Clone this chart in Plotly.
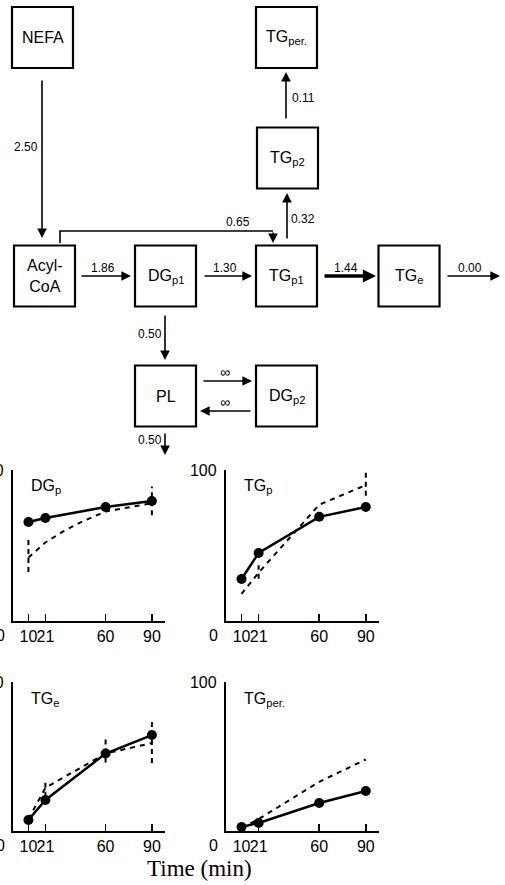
import plotly.graph_objects as go

# ---------------- data ----------------
time_points = [10, 21, 60, 90]
x_tick_labels = ["10", "21", "60", "90"]

dgp_obs = [65.6, 68.2, 75.5, 79.5]
tgp_obs = [27.8, 45.0, 69.0, 75.5]
tge_obs = [7.4, 20.8, 52.0, 64.4]
tgper_obs = [2.7, 5.4, 18.8, 26.8]

dgp_model_t = [10, 21, 32, 43, 60, 75, 90]
dgp_model = [42, 52, 59, 65, 72.5, 75.5, 78]
tgp_model_t = [10, 21, 60, 90]
tgp_model = [18, 32, 77, 90]
tge_model_t = [10, 21, 60, 90]
tge_model = [8, 29, 52, 59]
tgper_model_t = [10, 21, 60, 90]
tgper_model = [2, 8, 33, 48]

dgp_range_t, dgp_lo, dgp_hi = [10, 90], [32.5, 70], [53.6, 89]
tgp_range_t, tgp_lo, tgp_hi = [21, 90], [28, 83], [37, 99]
tge_range_t, tge_lo, tge_hi = [21, 60, 90], [23, 46, 45.6], [33, 62.4, 74.5]
tgper_range_t, tgper_lo, tgper_hi = [], [], []

panel_names = ["DG<sub>p</sub>", "TG<sub>p</sub>", "TG<sub>e</sub>", "TG<sub>per.</sub>"]

node_labels = ["NEFA", "TG<sub>per.</sub>", "TG<sub>p2</sub>", "Acyl-<br>CoA", "DG<sub>p1</sub>",
               "TG<sub>p1</sub>", "TG<sub>e</sub>", "PL", "DG<sub>p2</sub>"]
flux_labels = ["2.50", "0.11", "0.32", "0.65", "1.86", "1.30", "1.44", "0.00", "0.50", "∞", "∞", "0.50"]

# ---------------- layout helpers ----------------
W, H = 505, 885
def px(x): return x / W
def py(y): return 1 - y / H

fig = go.Figure()
FONT = "Liberation Sans, Arial, sans-serif"

# ---------------- compartment diagram ----------------
node_centers = [(42.5, 37.5), (286.5, 37.5), (287.5, 158), (44.5, 276), (165.5, 276),
                (286.5, 276), (409, 276), (165.5, 396), (286.5, 396)]
half = 30.5
shapes = []
annotations = []
for (cx, cy), lab in zip(node_centers, node_labels):
    shapes.append(dict(type="rect", xref="paper", yref="paper",
                       x0=px(cx - half), x1=px(cx + half), y0=py(cy + half), y1=py(cy - half),
                       line=dict(color="black", width=2.2)))
    annotations.append(dict(xref="paper", yref="paper", x=px(cx), y=py(cy), text=lab,
                            showarrow=False, font=dict(family=FONT, size=16, color="black"),
                            xanchor="center", yanchor="middle"))

# arrows: (tail, head, width, label position)
arrows = [
    ((42, 79), (42, 238), 1.6, (26, 147)),
    ((286, 120), (286, 72), 1.6, (303, 98)),
    ((287, 240), (287, 193), 1.6, (303, 219)),
    ((273, 231), (273, 243), 1.6, (238, 222)),
    ((80, 276), (131, 276), 1.6, (103, 268)),
    ((203, 276), (252, 276), 1.6, (225, 268)),
    ((323, 276), (376, 276), 3.5, (346, 268)),
    ((446, 276), (500, 276), 1.6, (470, 268)),
    ((165, 314), (165, 360), 1.6, (150, 334)),
    ((202, 381), (252, 381), 1.6, (225, 372)),
    ((252, 411), (200, 411), 1.6, (225, 402)),
    ((165, 432), (165, 455), 1.6, (150, 440)),
]
for (tail, head, w, lp), lab in zip(arrows, flux_labels):
    annotations.append(dict(xref="paper", yref="paper", x=px(head[0]), y=py(head[1]),
                            ax=tail[0] - head[0], ay=tail[1] - head[1], axref="pixel", ayref="pixel",
                            text="", showarrow=True, arrowhead=2,
                            arrowsize=1.2 if w < 2 else 0.75, arrowwidth=w,
                            arrowcolor="black", standoff=0, startstandoff=0))
    annotations.append(dict(xref="paper", yref="paper", x=px(lp[0]), y=py(lp[1]), text=lab,
                            showarrow=False,
                            font=dict(family=FONT, size=14 if lab == "∞" else 12, color="black"),
                            xanchor="center", yanchor="middle"))
# bypass line Acyl-CoA -> TGp1
shapes.append(dict(type="path", xref="paper", yref="paper",
                   path=f"M {px(60)},{py(243)} L {px(60)},{py(231)} L {px(273)},{py(231)}",
                   line=dict(color="black", width=1.6)))

# ---------------- kinetic panels ----------------
panels = [
    (dgp_obs, dgp_model_t, dgp_model, dgp_range_t, dgp_lo, dgp_hi, (13, 165), (470, 621)),
    (tgp_obs, tgp_model_t, tgp_model, tgp_range_t, tgp_lo, tgp_hi, (226, 379), (470, 621)),
    (tge_obs, tge_model_t, tge_model, tge_range_t, tge_lo, tge_hi, (13, 165), (682, 831)),
    (tgper_obs, tgper_model_t, tgper_model, tgper_range_t, tgper_lo, tgper_hi, (226, 379), (682, 831)),
]
xmax = 98.5
for i, (obs, mt, mv, rt, lo, hi, (xl, xr), (yt, yb)) in enumerate(panels):
    n = i + 1
    xa = "x" if n == 1 else f"x{n}"
    ya = "y" if n == 1 else f"y{n}"
    rx, ry = [], []
    for t, a, b in zip(rt, lo, hi):
        rx += [t, t, None]
        ry += [a, b, None]
    fig.add_trace(go.Scatter(x=mt, y=mv, mode="lines", xaxis=xa, yaxis=ya, cliponaxis=False,
                             line=dict(color="black", width=2, dash="5px,5px"), showlegend=False))
    if rx:
        fig.add_trace(go.Scatter(x=rx, y=ry, mode="lines", xaxis=xa, yaxis=ya, cliponaxis=False,
                                 line=dict(color="black", width=2, dash="5px,4px"), showlegend=False))
    fig.add_trace(go.Scatter(x=time_points, y=obs, mode="lines+markers", xaxis=xa, yaxis=ya,
                             cliponaxis=False,
                             line=dict(color="black", width=2.5),
                             marker=dict(color="black", size=10), showlegend=False))
    xkey = "xaxis" if n == 1 else f"xaxis{n}"
    ykey = "yaxis" if n == 1 else f"yaxis{n}"
    fig.layout[xkey] = dict(domain=[px(xl), px(xr)], range=[0, xmax], anchor=ya,
                            tickvals=time_points, ticktext=x_tick_labels, tickangle=0,
                            automargin=False,
                            ticks="inside", ticklen=7, tickwidth=1.6, tickcolor="black",
                            showline=True, linewidth=2.2, linecolor="black",
                            showgrid=False, zeroline=False,
                            tickfont=dict(family=FONT, size=16, color="black"))
    fig.layout[ykey] = dict(domain=[py(yb), py(yt)], range=[0, 100], anchor=xa,
                            tickvals=[100], ticktext=["100"], automargin=False,
                            ticks="inside", ticklen=10, tickwidth=1.6, tickcolor="black",
                            showline=True, linewidth=2.2, linecolor="black",
                            showgrid=False, zeroline=False, ticklabelstandoff=4,
                            tickfont=dict(family=FONT, size=16, color="black"))
    annotations.append(dict(xref="paper", yref="paper", x=px(xl - 13), y=py(yb + 14), text="0",
                            showarrow=False, font=dict(family=FONT, size=16, color="black"),
                            xanchor="center", yanchor="middle"))
    annotations.append(dict(xref="paper", yref="paper", x=px(xl + 16), y=py(yt + 17),
                            text=panel_names[i], showarrow=False,
                            font=dict(family=FONT, size=16, color="black"),
                            xanchor="left", yanchor="middle"))

annotations.append(dict(xref="paper", yref="paper", x=px(199), y=py(868), text="Time (min)",
                        showarrow=False,
                        font=dict(family="Liberation Serif, Times New Roman, serif", size=23, color="black"),
                        xanchor="center", yanchor="middle"))

fig.update_layout(width=W, height=H, margin=dict(l=0, r=0, t=0, b=0, autoexpand=False),
                  paper_bgcolor="white", plot_bgcolor="white", hovermode=False,
                  shapes=shapes, annotations=annotations, showlegend=False)
fig.write_html("out.html", config={"displayModeBar": False, "staticPlot": True},
               post_script="document.body.style.margin='0';document.body.style.overflow='hidden';")
